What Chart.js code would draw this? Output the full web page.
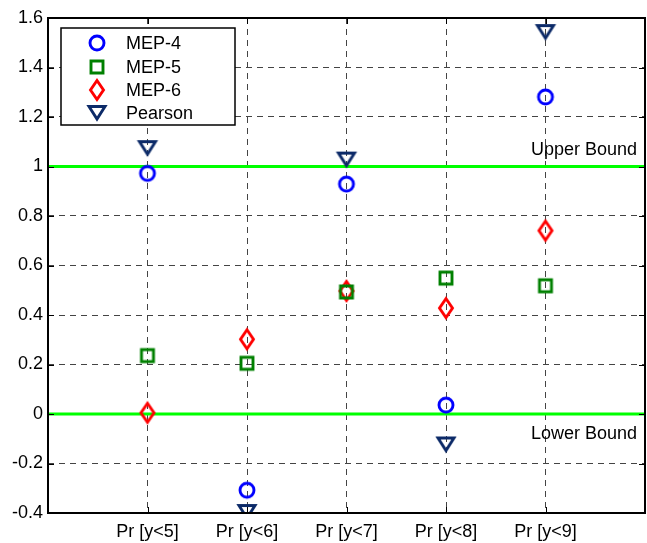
<!DOCTYPE html>
<html>
<head>
<meta charset="utf-8">
<script src="https://cdn.jsdelivr.net/npm/chart.js@4/dist/chart.umd.min.js"></script>
<style>
  html, body { margin: 0; padding: 0; background: #fff; }
  #wrap { width: 647px; height: 543px; }
</style>
</head>
<body>
<div id="wrap"><canvas id="c" width="647" height="543"></canvas></div>
<script>
const categories = ['Pr [y<5]', 'Pr [y<6]', 'Pr [y<7]', 'Pr [y<8]', 'Pr [y<9]'];
const seriesNames = ['MEP-4', 'MEP-5', 'MEP-6', 'Pearson'];
const mep4    = [0.972, -0.308, 0.929, 0.036, 1.281];
const mep5    = [0.236, 0.205, 0.493, 0.549, 0.518];
const mep6    = [0.005, 0.302, 0.497, 0.428, 0.741];
const pearson = [1.074, -0.396, 1.028, -0.123, 1.543];
const yTicks  = [-0.4, -0.2, 0, 0.2, 0.4, 0.6, 0.8, 1, 1.2, 1.4, 1.6];
const boundValues = [1, 0];
const boundLabels = ['Upper Bound', 'Lower Bound'];

const FONT = "'Liberation Sans', Arial, Helvetica, sans-serif";

function makeMarker(kind, color) {
  const s = 26;
  const cv = document.createElement('canvas');
  cv.width = s; cv.height = s;
  const g = cv.getContext('2d');
  const c = s / 2;
  g.strokeStyle = color;
  g.lineWidth = 2.9;
  g.lineJoin = 'miter';
  g.beginPath();
  if (kind === 'circle') {
    g.arc(c, c, 7, 0, Math.PI * 2);
  } else if (kind === 'square') {
    g.rect(c - 6, c - 6, 12, 12);
  } else if (kind === 'diamond') {
    g.moveTo(c, c - 9.5);
    g.lineTo(c + 6.5, c);
    g.lineTo(c, c + 9.5);
    g.lineTo(c - 6.5, c);
    g.closePath();
  } else if (kind === 'triangle') {
    g.moveTo(c - 8, c - 6.5);
    g.lineTo(c + 8, c - 6.5);
    g.lineTo(c, c + 6);
    g.closePath();
  }
  g.stroke();
  return cv;
}

const markers = [
  makeMarker('circle', '#0000ff'),
  makeMarker('square', '#008000'),
  makeMarker('diamond', '#ff0000'),
  makeMarker('triangle', '#0c2a68')
];
const colors = ['#0000ff', '#008000', '#ff0000', '#0c2a68'];
const allSeries = [mep4, mep5, mep6, pearson];

const datasets = allSeries.map((vals, k) => ({
  label: seriesNames[k],
  data: vals.map((v, i) => ({ x: i + 1, y: v })),
  pointStyle: markers[k],
  borderColor: colors[k],
  backgroundColor: colors[k],
  showLine: false
}));

const framePlugin = {
  id: 'frame',
  beforeDatasetsDraw(chart) {
    const { ctx, chartArea: a, scales } = chart;
    ctx.save();
    ctx.strokeStyle = '#00ff00';
    ctx.lineWidth = 3;
    boundValues.forEach(v => {
      const y = scales.y.getPixelForValue(v);
      ctx.beginPath();
      ctx.moveTo(a.left, y);
      ctx.lineTo(a.right, y);
      ctx.stroke();
    });
    ctx.fillStyle = '#000';
    ctx.font = '18px ' + FONT;
    ctx.textAlign = 'right';
    ctx.textBaseline = 'middle';
    const yU = scales.y.getPixelForValue(boundValues[0]);
    const yL = scales.y.getPixelForValue(boundValues[1]);
    ctx.fillText(boundLabels[0], a.right - 8, yU - 16);
    ctx.fillText(boundLabels[1], a.right - 8, yL + 20);
    // inward ticks
    ctx.strokeStyle = '#000';
    ctx.lineWidth = 1;
    const tl = 6;
    scales.y.ticks.forEach(t => {
      const y = Math.round(scales.y.getPixelForValue(t.value)) + 0.5;
      ctx.beginPath();
      ctx.moveTo(a.left, y); ctx.lineTo(a.left + tl, y);
      ctx.moveTo(a.right, y); ctx.lineTo(a.right - tl, y);
      ctx.stroke();
    });
    scales.x.ticks.forEach(t => {
      const x = Math.round(scales.x.getPixelForValue(t.value)) + 0.5;
      ctx.beginPath();
      ctx.moveTo(x, a.bottom); ctx.lineTo(x, a.bottom - tl);
      ctx.moveTo(x, a.top); ctx.lineTo(x, a.top + tl);
      ctx.stroke();
    });
    ctx.restore();
  },
  afterDraw(chart) {
    const { ctx, chartArea: a } = chart;
    ctx.save();
    ctx.strokeStyle = '#000';
    ctx.lineWidth = 2;
    ctx.strokeRect(a.left, a.top, a.right - a.left, a.bottom - a.top);
    // legend
    const lx = a.left + 13, ly = a.top + 10, lw = 174, lh = 97;
    ctx.fillStyle = '#fff';
    ctx.fillRect(lx, ly, lw, lh);
    ctx.lineWidth = 1.5;
    ctx.strokeRect(lx, ly, lw, lh);
    ctx.font = '18px ' + FONT;
    ctx.textAlign = 'left';
    ctx.textBaseline = 'middle';
    ctx.fillStyle = '#000';
    const rows = [15, 39, 62, 85];
    chart.data.datasets.forEach((ds, k) => {
      const cy = ly + rows[k];
      const m = ds.pointStyle;
      ctx.drawImage(m, lx + 36 - m.width / 2, cy - m.height / 2);
      ctx.fillText(ds.label, lx + 65, cy + 1);
    });
    ctx.restore();
  }
};

new Chart(document.getElementById('c'), {
  type: 'scatter',
  data: { datasets },
  options: {
    responsive: false,
    animation: false,
    devicePixelRatio: 1,
    layout: { autoPadding: false, padding: { left: 0, right: 2, top: 18, bottom: 0 } },
    plugins: { legend: { display: false }, tooltip: { enabled: false } },
    elements: { point: { radius: 10, hoverRadius: 10 } },
    scales: {
      x: {
        type: 'linear',
        min: 0, max: 6,
        afterBuildTicks(scale) {
          scale.ticks = categories.map((c, i) => ({ value: i + 1 }));
        },
        afterFit(scale) {
          scale.height = 30;
          scale.paddingLeft = 0;
          scale.paddingRight = 0;
        },
        ticks: {
          autoSkip: false,
          maxRotation: 0,
          padding: 8,
          color: '#000',
          font: { family: FONT, size: 18 },
          callback: (v) => categories[Math.round(v) - 1] || ''
        },
        grid: { color: '#444', lineWidth: 1, drawTicks: false },
        border: { display: false, dash: [6, 5] }
      },
      y: {
        type: 'linear',
        min: -0.4, max: 1.6,
        afterBuildTicks(scale) {
          scale.ticks = yTicks.map(v => ({ value: v }));
        },
        afterFit(scale) {
          scale.width = 48;
          scale.paddingTop = 0;
          scale.paddingBottom = 0;
        },
        ticks: {
          padding: 5,
          color: '#000',
          font: { family: FONT, size: 18 },
          callback: (v) => String(parseFloat(Number(v).toFixed(1)))
        },
        grid: { color: '#444', lineWidth: 1, drawTicks: false },
        border: { display: false, dash: [6, 5] }
      }
    }
  },
  plugins: [framePlugin]
});
</script>
</body>
</html>
